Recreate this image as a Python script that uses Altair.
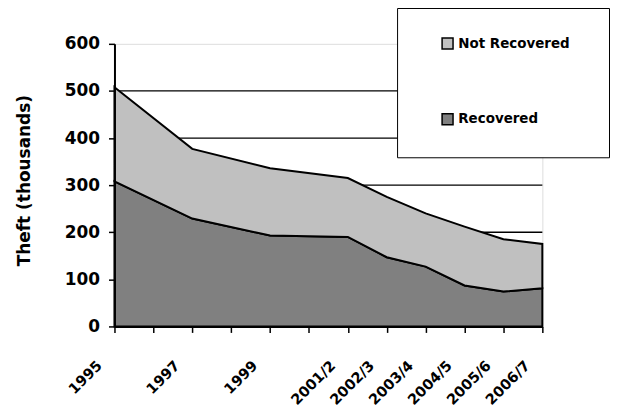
import altair as alt
import pandas as pd

# ---- data ----
categories = ["1995", "1996", "1997", "1998", "1999", "2000", "2001/2",
              "2002/3", "2003/4", "2004/5", "2005/6", "2006/7"]
hidden_labels = ["1996", "1998", "2000"]
years = ["1995", "1997", "1999", "2001/2", "2002/3", "2003/4", "2004/5", "2005/6", "2006/7"]
recovered = [308, 229, 193, 190, 147, 127, 87, 74, 81]
not_recovered = [200, 148, 143, 125, 128, 113, 125, 111, 94]
series = ["Not Recovered", "Recovered"]
series_colors = ["#c0c0c0", "#808080"]
stack_order = {"Recovered": 0, "Not Recovered": 1}
grid_values = [100, 200, 300, 400, 500]
y_ticks = [0, 100, 200, 300, 400, 500, 600]

rows = []
for i, yr in enumerate(years):
    rows.append({"year": yr, "series": "Recovered", "value": recovered[i], "ord": stack_order["Recovered"]})
    rows.append({"year": yr, "series": "Not Recovered", "value": not_recovered[i], "ord": stack_order["Not Recovered"]})
df = pd.DataFrame(rows)
grid_df = pd.DataFrame({"value": grid_values})

FONT = "DejaVu Sans"

hidden_js = "[" + ",".join("'" + h + "'" for h in hidden_labels) + "]"

x_enc = alt.X(
    "year:N",
    scale=alt.Scale(domain=categories, type="point", padding=0),
    axis=alt.Axis(
        title=None,
        labelAngle=-45,
        labelAlign="right",
        labelBaseline="middle",
        labelExpr=f"indexof({hidden_js}, datum.value) >= 0 ? '' : datum.value",
        labelFont=FONT,
        labelFontWeight="bold",
        labelFontSize=14.5,
        labelColor="black",
        labelPadding=31,
        labelOffset=-15,
        tickSize=6,
        tickColor="black",
        tickWidth=1.5,
        domainColor="black",
        domainWidth=2,
        grid=False,
        zindex=1,
    ),
)

y_enc = alt.Y(
    "value:Q",
    stack="zero",
    scale=alt.Scale(domain=[0, 600], nice=False),
    axis=alt.Axis(
        title="Theft (thousands)",
        values=y_ticks,
        titleFont=FONT,
        titleFontWeight="bold",
        titleFontSize=17,
        titleColor="black",
        titleBaseline="alphabetic",
        titleX=-85,
        titleY=137,
        titleAngle=270,
        labelFont=FONT,
        labelFontWeight="bold",
        labelFontSize=17,
        labelColor="black",
        labelPadding=9,
        tickSize=6,
        tickColor="black",
        tickWidth=1.5,
        domainColor="black",
        domainWidth=2,
        grid=False,
        zindex=1,
    ),
)

grid = alt.Chart(grid_df).mark_rule(color="black", strokeWidth=1.3).encode(
    y=alt.Y("value:Q", scale=alt.Scale(domain=[0, 600], nice=False))
)

area = alt.Chart(df).mark_area(stroke="black", strokeWidth=2, strokeJoin="miter").encode(
    x=x_enc,
    y=y_enc,
    color=alt.Color(
        "series:N",
        scale=alt.Scale(domain=series, range=series_colors),
        legend=alt.Legend(
            title=" ",
            titleOrient="right",
            titlePadding=11,
            titleFontSize=1,
            orient="none",
            legendX=284,
            legendY=-36,
            direction="vertical",
            fillColor="white",
            strokeColor="black",
            padding=29,
            rowPadding=58,
            symbolType="square",
            symbolSize=121,
            symbolOffset=15,
            symbolStrokeColor="black",
            symbolStrokeWidth=1.5,
            symbolOpacity=1,
            labelFont=FONT,
            labelFontWeight="bold",
            labelFontSize=13.5,
            labelColor="black",
            labelOffset=4,
        ),
    ),
    order=alt.Order("ord:Q"),
)

chart = (
    alt.layer(grid, area)
    .properties(
        width=430,
        height=284,
        autosize=alt.AutoSizeParams(type="none"),
        padding={"left": 107, "top": 35, "right": 70, "bottom": 88},
    )
    .configure_view(stroke="#808080", strokeWidth=1.5)
    .configure_legend(strokeWidth=2)
    .configure(background="white")
)

chart.save("out.html", embed_options={"renderer": "svg", "actions": False})
